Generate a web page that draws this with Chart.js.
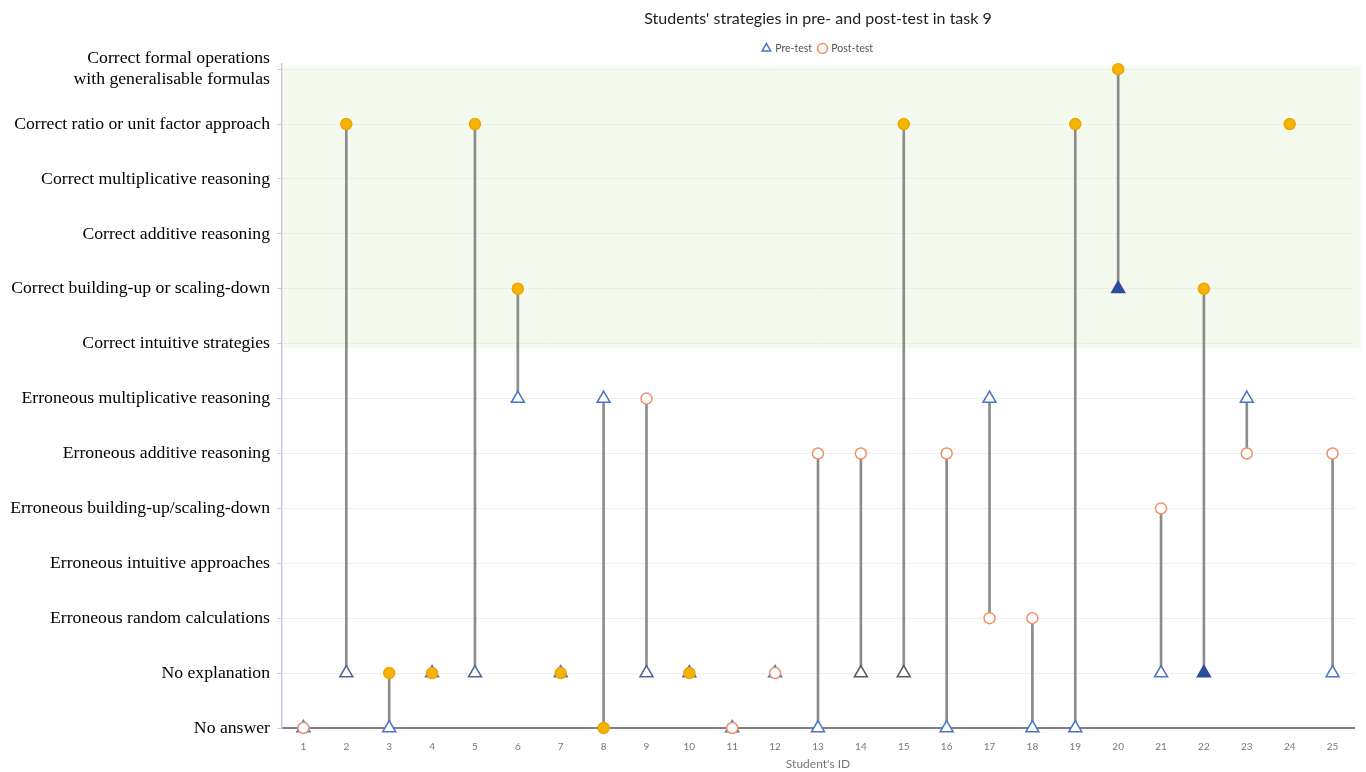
<!DOCTYPE html>
<html>
<head>
<meta charset="utf-8">
<script src="https://cdn.jsdelivr.net/npm/chart.js@4/dist/chart.umd.min.js"></script>
<style>
  html, body { margin: 0; padding: 0; background: #ffffff; }
  #wrap { width: 1366px; height: 772px; position: relative; }
</style>
</head>
<body>
<div id="wrap"><canvas id="c" width="1366" height="772"></canvas></div>
<script>
// ---------- DATA ----------
const studentIds = ['1','2','3','4','5','6','7','8','9','10','11','12','13','14','15','16','17','18','19','20','21','22','23','24','25'];
const strategyLabels = [
  'No answer',
  'No explanation',
  'Erroneous random calculations',
  'Erroneous intuitive approaches',
  'Erroneous building-up/scaling-down',
  'Erroneous additive reasoning',
  'Erroneous multiplicative reasoning',
  'Correct intuitive strategies',
  'Correct building-up or scaling-down',
  'Correct additive reasoning',
  'Correct multiplicative reasoning',
  'Correct ratio or unit factor approach',
  ['Correct formal operations', 'with generalisable formulas']
];
const preTest  = [0, 1, 0, 1, 1, 6, 1, 6, 1, 1, 0, 1, 0, 1, 1, 0, 6, 0, 0, 8, 1, 1, 6, null, 1];
const postTest = [0, 11, 1, 1, 11, 8, 1, 0, 6, 1, 0, 1, 5, 5, 11, 5, 2, 2, 11, 12, 4, 8, 5, 11, 5];

// ---------- STYLES ----------
const postFilled = [false,true,true,true,true,true,true,true,false,true,false,false,false,false,true,false,false,false,true,true,false,true,false,true,false];
const preFill = studentIds.map((id) => {
  if (id === '20' || id === '22') return '#2f4c9c';
  if (id === '4' || id === '7' || id === '10') return '#2f6fd0';
  return '#ffffff';
});
const preBorder = studentIds.map((id) => {
  if (id === '14' || id === '15') return '#5a5a5a';
  if (id === '20' || id === '22') return '#2f4c9c';
  if (id === '2' || id === '5' || id === '9') return '#4c6696';
  return '#4a74c4';
});
const postFill = postFilled.map(f => f ? '#f5b400' : '#ffffff');
const postBorder = postFilled.map(f => f ? '#f0a400' : '#f0916a');

const bandPlugin = {
  id: 'band',
  beforeDatasetsDraw(chart) {
    const { ctx, chartArea, scales } = chart;
    const yTop = scales.y.getPixelForValue(12.05);
    const yBot = scales.y.getPixelForValue(6.92);
    ctx.save();
    ctx.fillStyle = 'rgba(226,243,208,0.38)';
    ctx.fillRect(chartArea.left + 1, yTop, chartArea.right - chartArea.left + 6, yBot - yTop);
    ctx.restore();
  }
};

new Chart(document.getElementById('c'), {
  data: {
    labels: studentIds,
    datasets: [
      {
        type: 'line',
        label: 'Pre-test',
        data: preTest,
        showLine: false,
        pointStyle: 'triangle',
        pointRadius: 7.5,
        pointBorderWidth: 1.5,
        pointBackgroundColor: preFill,
        pointBorderColor: preBorder,
        backgroundColor: '#ffffff',
        borderColor: '#4a74c4',
        clip: false,
        order: 2
      },
      {
        type: 'line',
        label: 'Post-test',
        data: postTest,
        showLine: false,
        pointStyle: 'circle',
        pointRadius: 5.5,
        pointBorderWidth: 1.5,
        pointBackgroundColor: postFill,
        pointBorderColor: postBorder,
        backgroundColor: '#ffffff',
        borderColor: '#f0916a',
        clip: false,
        order: 1
      },
      {
        type: 'bar',
        label: 'change',
        data: preTest.map((p, i) => (p === null || postTest[i] === null) ? null : [p, postTest[i]]),
        backgroundColor: '#8c8c8c',
        borderWidth: 0,
        barThickness: 2,
        order: 3
      }
    ]
  },
  options: {
    responsive: false,
    animation: false,
    layout: { padding: { left: 0, right: 12, top: 0, bottom: 0 } },
    plugins: {
      title: {
        display: true,
        fullSize: false,
        text: "Students' strategies in pre- and post-test in task 9",
        color: '#222',
        font: { family: 'Lato', size: 16, weight: 'normal' },
        padding: { top: 9, bottom: 8 }
      },
      legend: {
        display: true,
        fullSize: false,
        labels: {
          usePointStyle: true,
          boxWidth: 7,
          boxHeight: 7,
          color: '#555',
          font: { family: 'Lato', size: 10.5 },
          padding: 7,
          sort: (a, b) => a.datasetIndex - b.datasetIndex,
          filter: (item) => item.text !== 'change'
        }
      },
      tooltip: { enabled: false }
    },
    scales: {
      x: {
        type: 'category',
        offset: true,
        afterFit(scale) { scale.height = 44; },
        grid: { display: false, drawTicks: false },
        border: { display: true, color: '#808080', width: 2 },
        ticks: { color: '#777', font: { family: 'Lato', size: 10 }, padding: 13 },
        title: {
          display: true,
          text: "Student's ID",
          color: '#777',
          font: { family: 'Lato', size: 12 },
          padding: { top: 4, bottom: 1 }
        }
      },
      y: {
        type: 'linear',
        min: 0,
        max: 12.1,
        afterFit(scale) { scale.width = 282; },
        afterBuildTicks(scale) {
          scale.ticks = strategyLabels.map((_, i) => ({ value: i }));
        },
        grid: { color: '#eeeeee', tickLength: 5, tickColor: '#c8c8e6' },
        border: { display: true, color: '#c8c8e6', width: 1.5 },
        ticks: {
          color: '#000',
          font: { family: 'Liberation Serif', size: 17.7 },
          padding: 7,
          autoSkip: false,
          callback: (v) => strategyLabels[v]
        }
      }
    }
  },
  plugins: [bandPlugin]
});
</script>
</body>
</html>
